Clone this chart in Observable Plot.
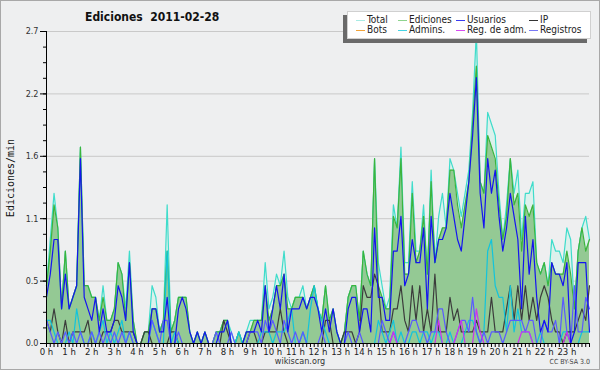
<!DOCTYPE html>
<html><head><meta charset="utf-8">
<script src="https://cdn.jsdelivr.net/npm/d3@7"></script>
<script src="https://cdn.jsdelivr.net/npm/@observablehq/plot@0.6"></script>
<style>
body{margin:0;background:#fff;}
#wrap{position:relative;width:600px;height:370px;background:#eeeff0;overflow:hidden;font-family:"DejaVu Sans Condensed","DejaVu Sans",sans-serif;font-stretch:condensed;color:#222;}
#border{position:absolute;left:0;top:0;width:598px;height:368px;border:1px solid #a8a8a8;pointer-events:none;}
#chart{position:absolute;left:0;top:0;}
#title{position:absolute;left:85px;top:10px;font-weight:bold;font-size:12px;line-height:14px;white-space:pre;color:#111;}
#ylab{position:absolute;left:10px;top:178px;transform:translate(-50%,-50%) rotate(-90deg);font-family:"DejaVu Sans Mono",monospace;font-stretch:normal;font-size:10px;white-space:nowrap;color:#111;}
#legend{position:absolute;left:347px;top:11px;width:242px;height:26px;background:#fff;border:1px solid #d0d0d0;box-shadow:-4px 4px 0 #6a6a6a;}
.li{position:absolute;font-size:10px;line-height:10px;white-space:nowrap;}
.sw{position:absolute;width:9px;height:1px;}
#site{position:absolute;left:0;width:600px;top:356px;text-align:center;font-size:9px;line-height:10px;color:#333;}
#cc{position:absolute;right:10px;top:358px;font-size:7px;line-height:8px;color:#444;}
</style></head>
<body>
<div id="wrap">
  <div id="chart"></div>
  <div id="title"></div>
  <div id="ylab"></div>
  <div id="legend"></div>
  <div id="site"></div>
  <div id="cc"></div>
  <div id="border"></div>
</div>
<script>
// ---- data: edits/min per 10-minute slot, 0:00 .. 24:00 ----
const total = [
0.5,0.9,1.3,1.0,0.3,0.8,0.3,0.4,0.5,1.7,
0.5,0.5,0.4,0.4,0.2,0.5,0.2,0.2,0.3,0.7,
0.6,0.3,0.8,0.2,0,0,0.1,0.1,0.5,0.4,
0.1,0.2,1.2,0.1,0.2,0.4,0.4,0.4,0.1,0,
0.1,0,0.1,0,0,0.1,0.1,0.2,0.2,0.1,
0,0.1,0,0.1,0.2,0.2,0.2,0.2,0.7,0.3,
0.4,0.6,0.5,0.8,0.4,0.3,0.4,0.4,0.5,0.3,
0.4,0.5,0.3,0.2,0.5,0.2,0.3,0.1,0,0.1,
0.4,0.5,0.5,0.2,0.8,0.6,0.5,1.6,0.7,0.5,
0.3,0.4,1.2,1.0,1.7,0.7,0.7,1.4,0.8,0.8,
1.2,0.6,1.5,0.7,1.1,1.3,1.0,1.6,1.5,1.3,
1.1,1.3,1.5,2.0,2.7,1.4,1.3,2.0,1.9,1.8,
1.3,0.9,1.2,1.6,1.3,1.5,0.9,1.3,1.3,1.4,
0.7,0.6,0.7,0.5,0.9,0.8,0.8,0.7,1.0,0.9,
0.3,0.8,1.0,1.1,0.9];
const edits = [
0.5,0.8,1.2,1.0,0.3,0.8,0.3,0.4,0.5,1.7,
0.5,0.5,0.4,0.4,0.2,0.4,0.2,0.2,0.3,0.7,
0.6,0.2,0.7,0.2,0,0,0.1,0.1,0.3,0.3,
0.1,0.2,0.8,0.1,0.2,0.4,0.4,0.4,0.1,0,
0.1,0,0.1,0,0,0.1,0.1,0.2,0.2,0,
0,0.1,0,0.1,0.1,0.2,0.2,0.2,0.5,0.2,
0.3,0.5,0.5,0.6,0.3,0.3,0.4,0.4,0.4,0.3,
0.4,0.5,0.3,0.2,0.5,0.2,0.3,0.1,0,0.1,
0.4,0.5,0.5,0.2,0.8,0.6,0.5,1.6,0.5,0.4,
0.3,0.3,1.1,1.0,1.6,0.6,0.6,1.3,0.7,0.8,
1.1,0.6,1.4,0.7,0.9,1.0,1.0,1.5,1.5,1.2,
1.0,1.2,1.4,1.9,2.4,1.4,1.3,1.8,1.7,1.6,
1.2,0.9,1.1,1.6,1.2,1.3,0.8,1.2,1.1,1.2,
0.7,0.6,0.7,0.5,0.7,0.6,0.6,0.6,0.8,0.6,
0.3,0.8,1.0,0.8,0.9];
const users = [
0.4,0.6,0.9,0.9,0.3,0.6,0.3,0.4,0.5,1.6,
0.4,0.3,0.2,0.4,0.1,0.3,0.1,0.1,0.2,0.5,
0.4,0.2,0.7,0.1,0,0,0,0,0.3,0.3,
0.1,0.1,0.4,0,0,0.3,0.4,0.3,0.1,0,
0.1,0,0.1,0,0,0,0.1,0.1,0.2,0,
0,0,0,0.1,0.1,0.1,0.2,0.1,0.5,0.1,
0.3,0.5,0.3,0.6,0.1,0.3,0.3,0.3,0.4,0.3,
0.4,0.4,0.3,0.1,0.3,0.1,0.3,0.1,0,0,
0.3,0.4,0.4,0.1,0.3,0.3,0.1,1.0,0.4,0.4,
0.2,0.2,0.8,0.8,1.1,0.5,0.6,0.9,0.7,0.7,
1.0,0.3,1.1,0.7,0.9,0.9,1.0,1.3,1.1,0.9,
0.8,1.1,1.4,1.8,2.3,1.3,1.0,1.6,1.3,1.5,
1.1,0.8,1.0,1.3,1.1,0.9,0.3,1.1,0.6,0.9,
0.4,0.1,0.2,0.1,0.7,0.6,0.6,0.5,0.7,0,
0.1,0.7,0.7,0.7,0.1];
const ip = [
0.2,0.1,0.3,0.1,0,0.2,0,0.1,0.1,0.1,
0.1,0.2,0,0,0,0.1,0.1,0.1,0.2,0.2,
0.1,0.1,0.1,0.1,0,0,0.1,0.1,0,0,
0,0,0,0.1,0.1,0,0,0,0,0,
0,0,0,0,0,0,0,0.2,0.1,0,
0,0,0,0,0.1,0.1,0,0,0.1,0.1,
0.1,0.1,0.3,0.1,0,0,0,0,0,0,
0,0,0,0,0.2,0.2,0,0,0,0.1,
0.1,0.1,0,0.1,0.5,0.4,0.4,0.6,0.5,0.1,
0.1,0.1,0.3,0.3,0.5,0.2,0.1,0.5,0.2,0.5,
0.1,0.3,0.1,0.6,0.1,0.1,0.1,0.4,0.2,0.3,
0.1,0.1,0.1,0.1,0.2,0.1,0.1,0.1,0.4,0.1,
0.1,0.1,0.3,0.5,0.2,0.5,0.2,0.5,0.2,0.4,
0.2,0.4,0.5,0.4,0.2,0.1,0.1,0,0.1,0.1,
0.1,0.2,0.3,0.2,0.5];
const bots = [
0,0,0,0,0,0,0,0,0,0, 0,0,0,0,0,0,0,0,0,0, 0,0,0,0,0,0,0,0,0,0,
0,0,0,0,0,0,0,0,0,0, 0,0,0,0,0,0,0,0,0,0, 0,0,0,0,0,0,0,0,0,0,
0,0,0,0,0,0,0,0,0,0, 0,0,0,0,0,0,0,0,0,0, 0,0,0,0,0,0,0,0,0,0,
0,0,0,0,0,0,0,0,0,0, 0,0,0,0,0,0,0,0,0,0, 0,0,0,0,0,0,0,0,0,0,
0,0,0,0,0,0,0,0,0,0, 0,0,0,0,0,0,0,0,0,0, 0,0,0,0,0];
const admins = [
0.2,0.2,0.1,0,0,0,0.1,0,0.3,0.1,
0,0,0.1,0,0.1,0.2,0,0.1,0,0.1,
0.2,0,0.1,0,0,0,0,0,0.2,0.1,
0,0,0.8,0,0.1,0,0,0,0,0,
0,0,0,0,0,0,0,0,0,0,
0,0.1,0,0,0,0,0,0.1,0.1,0.1,
0,0.1,0.1,0.1,0.2,0.3,0,0,0.1,0,
0.3,0.5,0.3,0.2,0.1,0,0,0,0,0,
0,0,0,0,0,0,0,0,0.2,0.1,
0,0.1,0.2,0,0.1,0,0,0.1,0.1,0,
0.1,0.1,0,0.1,0.1,0,0,0.1,0,0,
0,0.1,0.2,0.2,0.1,0,0.1,0.8,0.9,0.5,
0.4,0.4,0.1,0.5,0.1,0.3,0.1,0.1,0.1,0,
0,0.1,0,0,0,0,0,0.1,0.1,0,
0,0,0.1,0.1,0.1];
const regAdm = [
0,0,0,0,0,0,0,0,0,0, 0,0,0,0,0,0,0,0,0,0, 0,0,0,0,0,0,0,0,0,0,
0,0,0,0,0,0,0,0,0,0, 0,0,0,0,0,0,0,0,0,0, 0,0,0,0,0,0,0,0,0,0,
0,0,0,0,0,0,0,0,0,0, 0,0,0,0,0,0,0,0,0,0, 0,0,0,0,0,0,0,0,0,0,
0,0,0.1,0,0,0,0,0,0,0,
0,0,0,0,0.2,0,0,0,0,0.1,
0.2,0,0,0,0.3,0.1,0,0,0,0,
0,0,0,0,0,0,0.1,0.1,0.1,0,
0,0,0,0,0,0,0,0,0.1,0,
0,0,0,0,0];
const registros = [
0.2,0.1,0,0.1,0,0.1,0,0.1,0,0.1,
0,0,0.1,0,0.1,0,0.1,0,0.1,0,
0.1,0,0.1,0,0,0,0,0,0.2,0.1,
0,0.2,0.2,0,0,0.1,0,0,0,0,
0,0,0,0,0,0.1,0,0,0,0.1,
0,0,0,0,0.1,0.1,0.1,0,0.2,0.1,
0.2,0.1,0,0.2,0.1,0,0.1,0,0.1,0,
0,0,0,0.1,0,0,0,0,0,0,
0.1,0,0,0.1,0,0,0,0,0,0.2,
0.1,0,0.1,0,0,0,0.1,0.2,0.2,0.1,
0.1,0,0.1,0.1,0.3,0.3,0.1,0,0,0.1,
0.2,0.2,0.1,0.4,0.1,0,0.1,0,0.1,0.1,
0.1,0,0.1,0.2,0.2,0.2,0.2,0.1,0.2,0.2,
0,0,0.2,0.1,0.1,0.2,0,0.4,0.1,0,
0.5,0.1,0.1,0.4,0.3];

const hourLabels = ["0 h","1 h","2 h","3 h","4 h","5 h","6 h","7 h","8 h","9 h","10 h","11 h",
  "12 h","13 h","14 h","15 h","16 h","17 h","18 h","19 h","20 h","21 h","22 h","23 h"];
const yTicks = [0, 0.54, 1.08, 1.62, 2.16, 2.7];
const yLabels = ["0.0","0.5","1.1","1.6","2.2","2.7"];
const seriesNames = ["Total","Ediciones","Usuarios","IP","Bots","Admins.","Reg. de adm.","Registros"];
const seriesColors = ["#3fdccb","#3cb43c","#1414f0","#3c3c3c","#f5a02a","#12c4dc","#cc33ee","#5a5aff"];
const legendColors = ["#a8ebe4","#8ed48e","#3b3bf0","#333333","#f2a43a","#45d3e3","#d64cf2","#7878f5"];
const titleText = "Ediciones  2011-02-28";
const yTitle = "Ediciones/min";

// ---- build ----
const times = total.map((_, i) => i * 10);            // minutes since midnight
const hourTicks = hourLabels.map((_, h) => h * 60);
const minorX = d3.range(0, 1441, 10);
const minorY = d3.range(0, 20).map(k => k * 0.135);

const lineOpts = (c) => ({x: times, stroke: c, strokeWidth: 1.2, curve: "linear"});

const chart = Plot.plot({
  width: 600, height: 370,
  marginLeft: 46, marginRight: 11, marginTop: 31, marginBottom: 27,
  x: {domain: [0, 1440], axis: null},
  y: {domain: [0, 2.7], axis: null},
  style: {background: "transparent", fontFamily: '"DejaVu Sans Condensed","DejaVu Sans",sans-serif', fontSize: "9px", color: "#000"},
  marks: [
    Plot.gridY(yTicks, {stroke: "#c9c9c9", strokeOpacity: 1}),
    Plot.areaY(total, {x: times, fill: "#dcf1ec"}),
    Plot.areaY(edits, {x: times, fill: "#94c994"}),
    Plot.lineY(total, lineOpts(seriesColors[0])),
    Plot.lineY(edits, lineOpts(seriesColors[1])),
    Plot.lineY(ip, lineOpts(seriesColors[3])),
    Plot.lineY(bots, lineOpts(seriesColors[4])),
    Plot.lineY(admins, lineOpts(seriesColors[5])),
    Plot.lineY(registros, lineOpts(seriesColors[7])),
    Plot.lineY(regAdm, lineOpts(seriesColors[6])),
    Plot.lineY(users, lineOpts(seriesColors[2])),
    Plot.axisY(minorY, {tickSize: 3, tickFormat: () => "", stroke: "#000"}),
    Plot.axisY(yTicks, {tickSize: 6, tickPadding: 2, tickFormat: (d, i) => yLabels[i], fill: "#333", stroke: "#000"}),
    Plot.axisX(minorX, {tickSize: 4, tickFormat: () => "", stroke: "#000"}),
    Plot.axisX(hourTicks, {tickSize: 0, tickPadding: 5, tickFormat: (d, i) => hourLabels[i], fill: "#222", fontSize: 9.5}),
    Plot.ruleX([0], {stroke: "#000"}),
    Plot.ruleY([0], {stroke: "#000"})
  ]
});
document.getElementById("chart").append(chart);

document.getElementById("title").textContent = titleText;
document.getElementById("ylab").textContent = yTitle;
document.getElementById("site").textContent = "wikiscan.org";
document.getElementById("cc").textContent = "CC BY-SA 3.0";

const leg = document.getElementById("legend");
const colX = [8, 50, 108, 181];
const rowY = [8, 18];
seriesNames.forEach((name, k) => {
  const col = k % 4, row = Math.floor(k / 4);
  const sw = document.createElement("div");
  sw.className = "sw";
  sw.style.left = colX[col] + "px";
  sw.style.top = rowY[row] + "px";
  sw.style.background = legendColors[k];
  leg.append(sw);
  const t = document.createElement("div");
  t.className = "li";
  t.style.left = (colX[col] + 11) + "px";
  t.style.top = (rowY[row] - 5) + "px";
  t.textContent = name;
  leg.append(t);
});
</script>
</body></html>
